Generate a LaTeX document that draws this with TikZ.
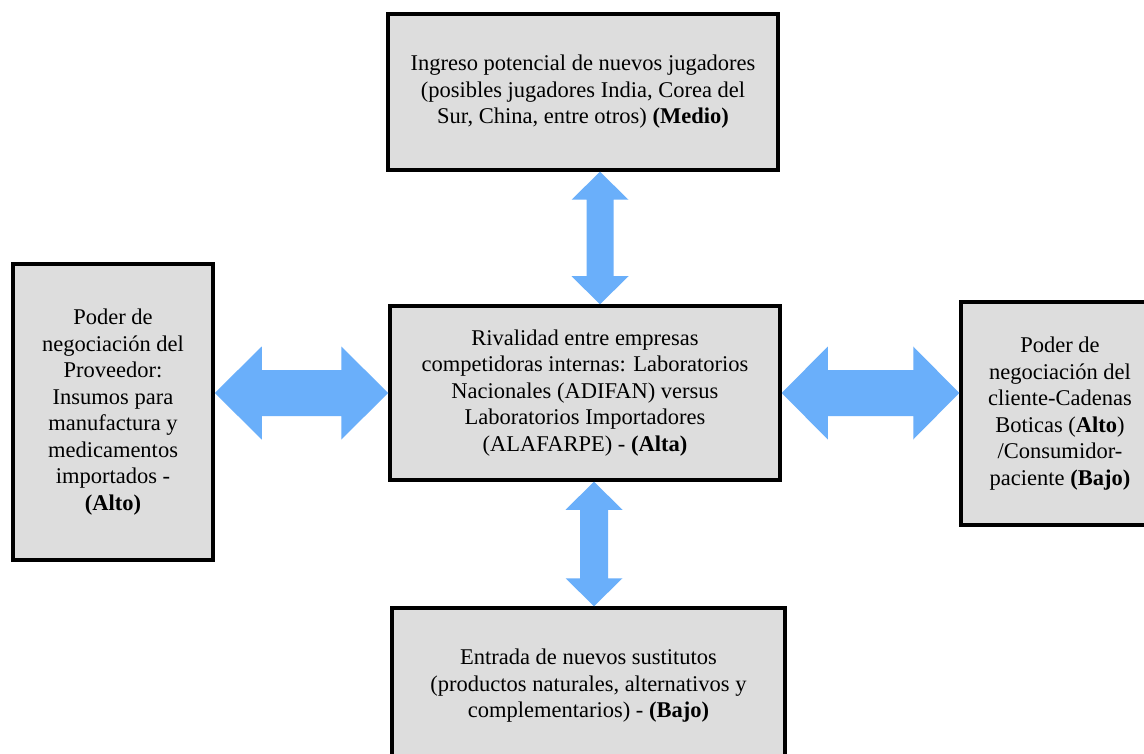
\documentclass[tikz,border=0pt]{standalone}
\usepackage{fontspec}
\setmainfont{Liberation Serif}
\usetikzlibrary{calc}
\definecolor{grisCaja}{RGB}{221,221,221}
\definecolor{azulFlecha}{RGB}{106,175,250}
\tikzset{
	fuerza/.style={draw=black, line width=3.5pt, fill=grisCaja, align=center, inner sep=0pt, font=\fontsize{22.5}{26.5}\selectfont},
	flecha/.style={fill=azulFlecha}
}
\begin{document}
\begin{tikzpicture}[x=1pt,y=-1pt]
		\useasboundingbox[fill=white] (0,0) rectangle (1144,754);
		
		\node[fuerza, minimum width=390pt, minimum height=156pt] (nuevos) at (583,92) {Ingreso potencial de nuevos jugadores\\(posibles jugadores India, Corea del\\Sur, China, entre otros) \textbf{(Medio)}};
		\node[fuerza, minimum width=390pt, minimum height=174pt] (rival) at (585,393) {Rivalidad entre empresas\\competidoras internas: Laboratorios\\Nacionales (ADIFAN) versus\\Laboratorios Importadores\\(ALAFARPE) - \textbf{(Alta)}};
		\node[fuerza, minimum width=200pt, minimum height=296pt] (prov) at (113,412) {Poder de\\negociación del\\Proveedor:\\Insumos para\\manufactura y\\medicamentos\\importados -\\\textbf{(Alto)}};
		\node[fuerza, minimum width=198pt, minimum height=223pt] (cliente) at (1060,413.5) {Poder de\\negociación del\\cliente-Cadenas\\Boticas (\textbf{Alto})\\/Consumidor-\\paciente \textbf{(Bajo)}};
		\node[fuerza, minimum width=393pt, minimum height=156pt] (sust) at (588.5,686) {Entrada de nuevos sustitutos\\(productos naturales, alternativos y\\complementarios) - \textbf{(Bajo)}};
		
		\coordinate (a1) at (prov.east |- rival.west);
		\coordinate (a2) at (rival.west);
		\coordinate (b1) at (rival.east);
		\coordinate (b2) at (cliente.west |- rival.east);
		\coordinate (c1) at ([xshift=17pt]nuevos.south);
		\coordinate (c2) at ([xshift=15pt]rival.north);
		\coordinate (d1) at ([xshift=9pt]rival.south);
		\coordinate (d2) at ([xshift=5.5pt]sust.north);
		
		\fill[flecha] (a1) -- ($(a1)+(47,-46.5)$) -- ($(a1)+(47,-23)$) -- ($(a2)+(-47,-23)$) -- ($(a2)+(-47,-46.5)$) -- (a2)
			-- ($(a2)+(-47,46.5)$) -- ($(a2)+(-47,23)$) -- ($(a1)+(47,23)$) -- ($(a1)+(47,46.5)$) -- cycle;
		\fill[flecha] (b1) -- ($(b1)+(46,-46.5)$) -- ($(b1)+(46,-23)$) -- ($(b2)+(-46,-23)$) -- ($(b2)+(-46,-46.5)$) -- (b2)
			-- ($(b2)+(-46,46.5)$) -- ($(b2)+(-46,23)$) -- ($(b1)+(46,23)$) -- ($(b1)+(46,46.5)$) -- cycle;
		\fill[flecha] (c1) -- ($(c1)+(-28.5,28)$) -- ($(c1)+(-13.5,28)$) -- ($(c2)+(-13.5,-28)$) -- ($(c2)+(-28.5,-28)$) -- (c2)
			-- ($(c2)+(28.5,-28)$) -- ($(c2)+(13.5,-28)$) -- ($(c1)+(13.5,28)$) -- ($(c1)+(28.5,28)$) -- cycle;
		\fill[flecha] (d1) -- ($(d1)+(-28.5,28)$) -- ($(d1)+(-14,28)$) -- ($(d2)+(-14,-28)$) -- ($(d2)+(-28.5,-28)$) -- (d2)
			-- ($(d2)+(28.5,-28)$) -- ($(d2)+(14,-28)$) -- ($(d1)+(14,28)$) -- ($(d1)+(28.5,28)$) -- cycle;
\end{tikzpicture}
\end{document}
